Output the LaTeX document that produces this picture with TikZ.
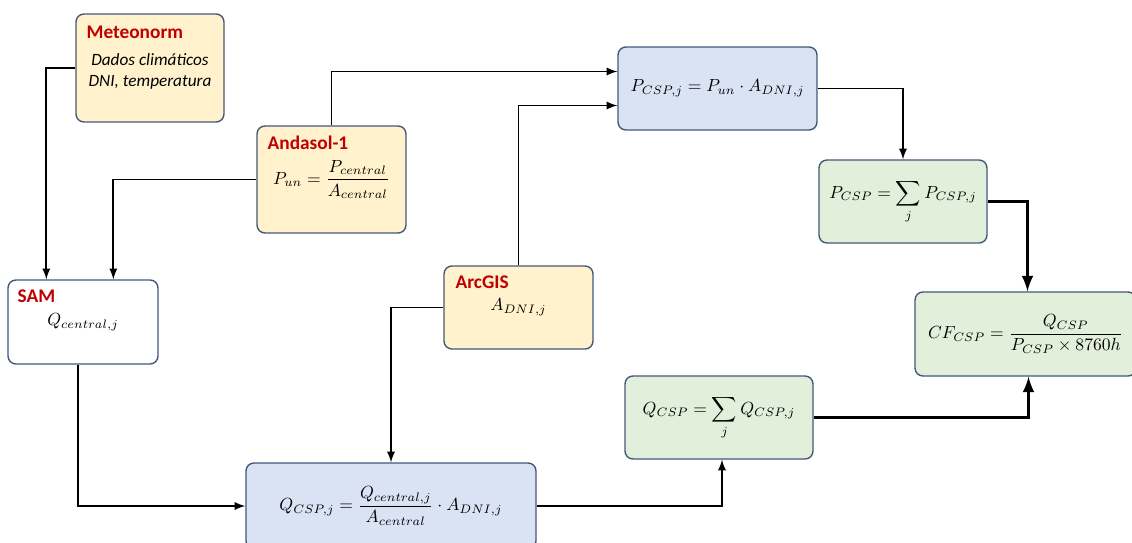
\documentclass[tikz,border=0pt]{standalone}
\usepackage{fontspec}
\setmainfont{Carlito}
\usepackage{amsmath}
\usetikzlibrary{calc}
\definecolor{boxline}{HTML}{44587A}
\definecolor{yel}{HTML}{FFF2CC}
\definecolor{blu}{HTML}{DAE3F3}
\definecolor{grn}{HTML}{E2EFDA}
\definecolor{titred}{HTML}{C00000}
\begin{document}
\begin{tikzpicture}[x=0.02cm, y=-0.02cm, >=latex,
   box/.style={draw=boxline, line width=0.8pt, rounded corners=4.5pt, inner sep=0pt, align=center,
               font=\fontsize{10.2}{13}\selectfont},
   size/.style 2 args={minimum width=#1cm, minimum height=#2cm},
   title/.style={anchor=west, inner sep=0pt, text=titred, font=\fontsize{11}{13}\selectfont\bfseries},
   link/.style={->, line width=1.1pt},
   biglink/.style={->, line width=2pt}]
   \useasboundingbox (0,0) rectangle (1132,542);
   \clip (0,0) rectangle (1132,542);

   % inputs
   \node[box, fill=yel, size={2.96}{2.16}] (met) at (150,68) {};
   \node[align=center, inner sep=0pt, font=\fontsize{9.8}{12}\selectfont\itshape] (metT) at ($(met.center)+(0,3)$)
      {Dados climáticos\\DNI, temperatura};
   \node[box, fill=yel, size={2.98}{2.14}] (and) at (331.5,179.5)
      {$P_{un}=\dfrac{P_{central}}{A_{central}}$};
   \node[box, fill=white, size={3.0}{1.68}] (sam) at (83,322) {$Q_{central,j}$};
   \node[box, fill=yel, size={2.98}{1.66}] (arc) at (518.5,307.5) {$A_{DNI,j}$};

   \node[title] at ($(met.north west)+(11,19)$) {Meteonorm};
   \node[title] at ($(and.north west)+(11,17)$) {Andasol-1};
   \node[title] at ($(sam.north west)+(10,17)$) {SAM};
   \node[title] at ($(arc.north west)+(12,17)$) {ArcGIS};

   % calculations
   \node[box, fill=blu, size={3.98}{1.66}] (pcspj) at (717.5,88.5)
      {$P_{CSP,j}=P_{un}\cdot A_{DNI,j}$};
   \node[box, fill=blu, size={5.8}{1.72}] (qcspj) at (391,506)
      {$Q_{CSP,j}=\dfrac{Q_{central,j}}{A_{central}}\cdot A_{DNI,j}$};
   \node[box, fill=grn, size={3.36}{1.66}] (pcsp) at (903,201.5)
      {$P_{CSP}=\displaystyle\sum_j P_{CSP,j}$};
   \node[box, fill=grn, size={3.76}{1.66}] (qcsp) at (719,417.5)
      {$Q_{CSP}=\displaystyle\sum_j Q_{CSP,j}$};
   \node[box, fill=grn, size={4.42}{1.68}] (cf) at (1025.5,334)
      {$CF_{CSP}=\dfrac{Q_{CSP}}{P_{CSP}\times 8760h}$};

   % connectors
   \draw[link] (met.west) -| ($(sam.north west)+(39,0)$);
   \draw[link] (and.west) -| ($(sam.north west)+(106,0)$);
   \draw[link] (and.north) |- ($(pcspj.west)+(0,-17)$);
   \draw[link] (arc.north) |- ($(pcspj.west)+(0,17)$);
   \draw[link] (arc.west) -| (qcspj.north);
   \draw[link] ($(sam.south)+(-5,0)$) |- (qcspj.west);
   \draw[link] (qcspj.east) -| ($(qcsp.south)+(3,0)$);
   \draw[link] (pcspj.east) -| (pcsp.north);
   \draw[biglink] (pcsp.east) -| ($(cf.north)+(2,0)$);
   \draw[biglink] (qcsp.east) -| ($(cf.south)+(3,0)$);
\end{tikzpicture}
\end{document}
